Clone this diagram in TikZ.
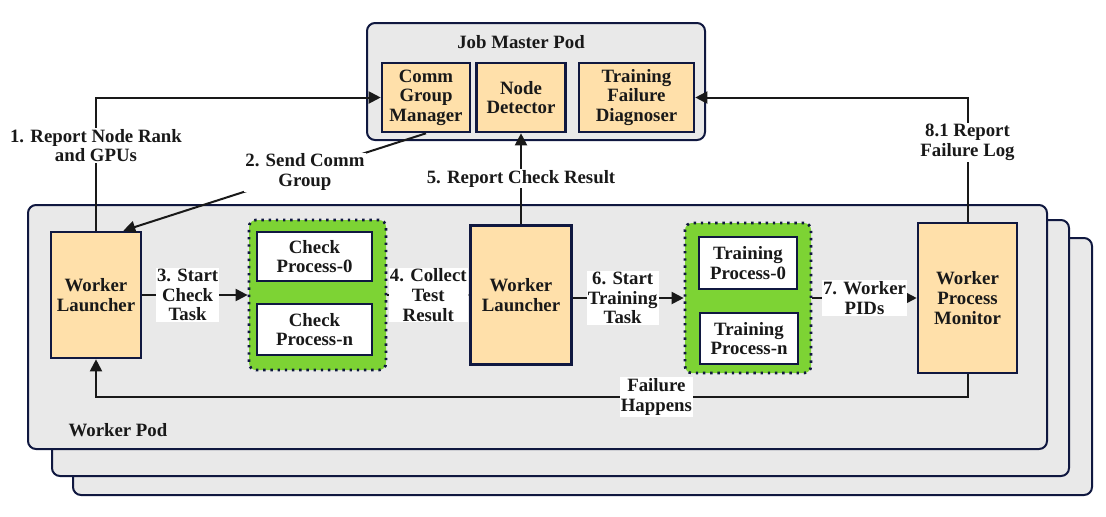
\documentclass[tikz,border=0pt]{standalone}
\usepackage{fontspec}
\setmainfont{Liberation Serif}
\usepackage{xcolor}
\usepackage{tikz}
\usetikzlibrary{shapes,positioning,arrows.meta}
\definecolor{navy}{RGB}{16,24,64}
\definecolor{podgray}{RGB}{233,233,233}
\definecolor{peach}{RGB}{255,224,170}
\definecolor{procgreen}{RGB}{125,211,52}
\definecolor{ink}{RGB}{25,25,25}
\tikzset{pod/.style={rectangle,rounded corners=4pt,draw=navy,fill=podgray,line width=1pt},
  comp/.style={rectangle,draw=navy,fill=peach,line width=1.3pt,inner sep=0pt,align=center},
  proc/.style={rectangle,draw=navy,fill=white,line width=1.3pt,inner sep=0pt,align=center},
  grp/.style={rectangle,rounded corners=3.5pt,draw=navy,fill=procgreen,line width=1.35pt,dash pattern=on 1.2pt off 2.4pt},
  flow/.style={->,draw=ink,line width=1pt},
  lbl/.style={fill=white,inner sep=0.6pt,align=center}}

\begin{document}
\begin{tikzpicture}[x=0.5pt,y=-0.5pt,>={Triangle[length=6pt,width=6pt]},
    every node/.style={text=ink,font=\fontsize{9.4}{9.8}\selectfont\bfseries}]
        \useasboundingbox (0,0) rectangle (1106,516);

        \node[pod,minimum width=509.5pt,minimum height=128.5pt] (pod3) at (582.5,366.5) {};
        \node[pod,minimum width=508.5pt,minimum height=128pt] (pod2) at (560.5,348) {};
        \node[pod,minimum width=509.5pt,minimum height=122pt] (pod1) at (537.5,327) {};
        \node[pod,minimum width=169pt,minimum height=58.5pt] (jm) at (536,81.5) {};
        \node (jmtitle) at (521,42) {Job Master Pod};
        \node (wptitle) at (118,430) {Worker Pod};

        \node[comp,minimum width=44pt,minimum height=34.5pt] (cgm) at (426,97.5) {Comm\\Group\\Manager};
        \node[comp,minimum width=44.5pt,minimum height=34.5pt] (nd) at (521,97.5) {Node\\Detector};
        \node[comp,minimum width=57.5pt,minimum height=34.5pt] (tfd) at (636.5,97.5) {Training\\Failure\\Diagnoser};

        \node[comp,minimum width=45pt,minimum height=63pt] (wl1) at (96,295) {Worker\\Launcher};
        \node[comp,minimum width=50.5pt,minimum height=69.5pt] (wl2) at (521,295) {Worker\\Launcher};
        \node[comp,minimum width=49.5pt,minimum height=75pt] (wpm) at (967.5,298) {Worker\\Process\\Monitor};

        \node[grp,minimum width=68.5pt,minimum height=75pt] (cgrp) at (317.5,295) {};
        \node[proc,minimum width=57.5pt,minimum height=24.5pt] (cp0) at (314.5,256.5) {Check\\Process-0};
        \node[proc,minimum width=57.5pt,minimum height=25.5pt] (cpn) at (314.5,329.5) {Check\\Process-n};
        \node[grp,minimum width=63pt,minimum height=75pt] (tgrp) at (748,298) {};
        \node[proc,minimum width=49pt,minimum height=26pt] (tp0) at (748,263) {Training\\Process-0};
        \node[proc,minimum width=49pt,minimum height=25.5pt] (tpn) at (749,338.5) {Training\\Process-n};
        \coordinate (fl) at (0,397);

        \draw [flow] (wl1.north) |- node[lbl,pos=0.32]{1. Report Node Rank\\and GPUs} (cgm.west);
        \draw [flow] (cgm.south) to []node[lbl,pos=0.4]{2. Send Comm\\Group} (wl1.67);
        \draw [flow] (wl1) to []node[lbl,pos=0.43]{3. Start\\Check\\Task} (cgrp);
        \draw [flow] (cgrp) to []node[lbl]{4. Collect\\Test\\Result} (wl2);
        \draw [flow] (wl2) to []node[lbl]{5. Report Check Result} (nd);
        \draw [flow] (wl2.east |- tgrp.west) to []node[lbl,pos=0.45]{6. Start\\Training\\Task} (tgrp.west);
        \draw [flow] (tgrp) to []node[lbl]{7. Worker\\PIDs} (wpm);
        \draw [flow] (wpm.north) |- node[lbl,pos=0.32]{8.1 Report\\Failure Log} (tfd.east);
        \draw [flow] (wpm.south) -- (wpm.south |- fl) -- node[lbl,pos=0.357]{Failure\\Happens} (wl1.south |- fl) -- (wl1.south);
    \end{tikzpicture}
\end{document}
